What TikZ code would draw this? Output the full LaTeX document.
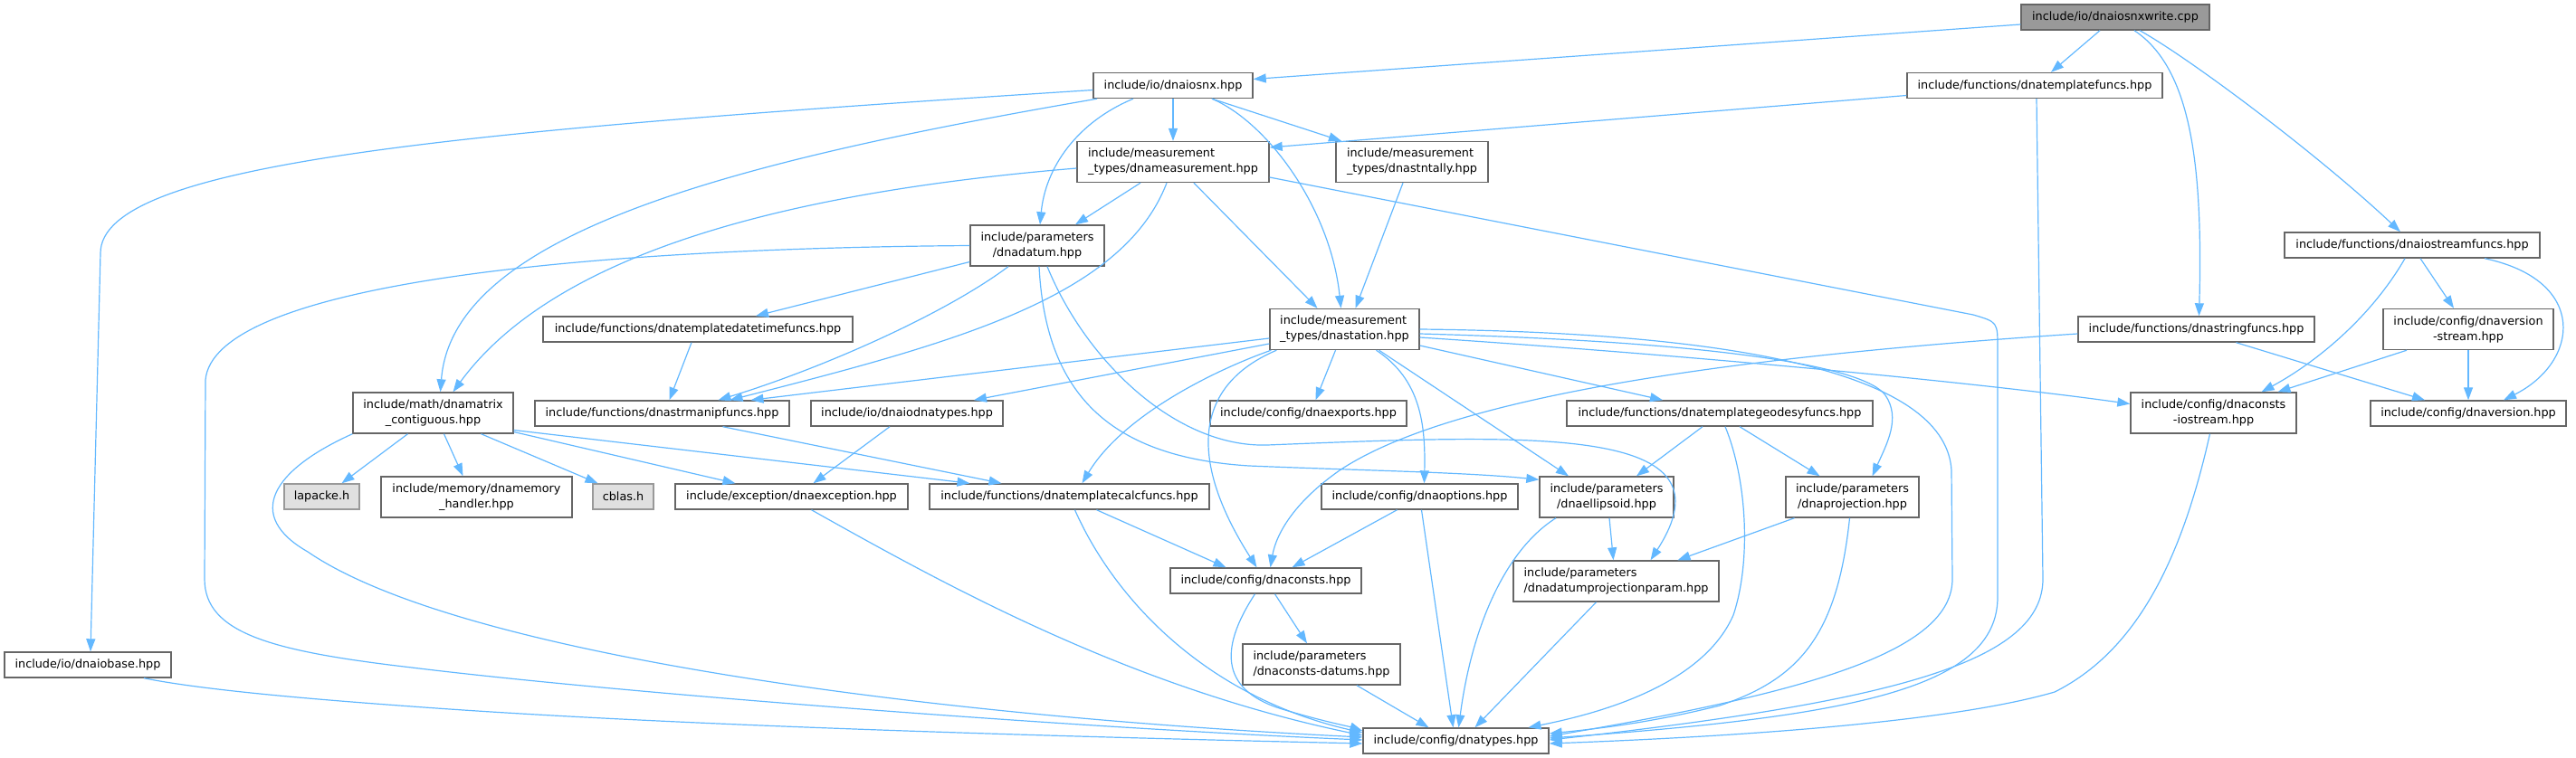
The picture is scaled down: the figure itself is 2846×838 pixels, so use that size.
\documentclass[tikz,border=0pt]{standalone}
\usepackage{fontspec}
\setmainfont{DejaVu Sans}
\usetikzlibrary{arrows.meta}
\usepackage{xcolor}
\definecolor{Edge}{RGB}{99,184,255}
\definecolor{Frame}{RGB}{102,102,102}
\definecolor{RootFill}{RGB}{153,153,153}
\definecolor{SysFill}{RGB}{224,224,224}
\definecolor{SysFrame}{RGB}{153,153,153}

\tikzset{
  file/.style={draw=Frame, fill=white, line width=1.4pt, inner sep=0pt, minimum height=28pt, font=\fontsize{12.8}{17}\selectfont},
  two/.style={minimum height=45pt},
  root/.style={file, fill=RootFill},
  sys/.style={file, draw=SysFrame, fill=SysFill},
  dep/.style={draw=Edge, line width=1.2pt, ->}
}

\begin{document}
\begin{tikzpicture}[x=1pt,y=-1pt,>={Triangle[length=14pt,width=10pt]}]
\useasboundingbox (0,0) rectangle (2846,838);

\node[root, minimum width=208pt] (write) at (2337,19) {include/io/dnaiosnxwrite.cpp};
\node[file, minimum width=176pt] (iosnx) at (1296,94.5) {include/io/dnaiosnx.hpp};
\node[file, minimum width=282pt] (tplfuncs) at (2248,94.5) {include/functions/dnatemplatefuncs.hpp};
\node[file, two, minimum width=212pt, align=left] (meas) at (1296,179) {include/measurement\\\_types/dnameasurement.hpp};
\node[file, two, minimum width=168pt, align=left] (stntally) at (1560,179) {include/measurement\\\_types/dnastntally.hpp};
\node[file, two, minimum width=148pt, align=center] (datum) at (1146,271.5) {include/parameters\\/dnadatum.hpp};
\node[file, minimum width=282pt] (iostream) at (2665,271) {include/functions/dnaiostreamfuncs.hpp};
\node[file, two, minimum width=165pt, align=left] (station) at (1485.5,364) {include/measurement\\\_types/dnastation.hpp};
\node[file, minimum width=342pt] (datetime) at (771,364) {include/functions/dnatemplatedatetimefuncs.hpp};
\node[file, minimum width=261pt] (strfuncs) at (2426.5,364) {include/functions/dnastringfuncs.hpp};
\node[file, two, minimum width=188pt, align=center] (verstream) at (2727,364) {include/config/dnaversion\\-stream.hpp};
\node[file, two, minimum width=177pt, align=center] (matrix) at (478.5,456.5) {include/math/dnamatrix\\\_contiguous.hpp};
\node[file, minimum width=281pt] (strmanip) at (731.5,457) {include/functions/dnastrmanipfuncs.hpp};
\node[file, minimum width=212pt] (iodnatypes) at (1002,457) {include/io/dnaiodnatypes.hpp};
\node[file, minimum width=217pt] (exports) at (1445.5,457) {include/config/dnaexports.hpp};
\node[file, minimum width=338pt] (geodesy) at (1900,457) {include/functions/dnatemplategeodesyfuncs.hpp};
\node[file, two, minimum width=183pt, align=center] (constsio) at (2445.5,456.5) {include/config/dnaconsts\\-iostream.hpp};
\node[file, minimum width=216pt] (version) at (2727,457) {include/config/dnaversion.hpp};
\node[sys, minimum width=83pt] (lapacke) at (355.5,549) {lapacke.h};
\node[file, two, minimum width=211pt, align=center] (memory) at (526.5,549.5) {include/memory/dnamemory\\\_handler.hpp};
\node[sys, minimum width=67pt] (cblas) at (688.5,549) {cblas.h};
\node[file, minimum width=257pt] (exception) at (874.5,549) {include/exception/dnaexception.hpp};
\node[file, minimum width=309pt] (calcfuncs) at (1181.5,549) {include/functions/dnatemplatecalcfuncs.hpp};
\node[file, minimum width=217pt] (options) at (1568.5,549) {include/config/dnaoptions.hpp};
\node[file, two, minimum width=148pt, align=center] (ellipsoid) at (1775,549.5) {include/parameters\\/dnaellipsoid.hpp};
\node[file, two, minimum width=147pt, align=center] (projection) at (2046.5,549.5) {include/parameters\\/dnaprojection.hpp};
\node[file, minimum width=211pt] (consts) at (1398.5,642) {include/config/dnaconsts.hpp};
\node[file, two, minimum width=227pt, align=left] (dpp) at (1785.5,642.5) {include/parameters\\/dnadatumprojectionparam.hpp};
\node[file, two, minimum width=174pt, align=left] (datums) at (1460,734.5) {include/parameters\\/dnaconsts-datums.hpp};
\node[file, minimum width=184pt] (iobase) at (97,735) {include/io/dnaiobase.hpp};
\node[file, minimum width=205pt] (types) at (1608.5,819) {include/config/dnatypes.hpp};

\draw[dep] ([yshift=-8pt]write.west) -- ([yshift=7pt]iosnx.east);
\draw[dep] ([xshift=-17pt]write.south) -- ([xshift=18pt]tplfuncs.north);
\draw[dep] ([xshift=21pt]write.south) .. controls (2420,75) and (2434,180) .. ([xshift=3pt]strfuncs.north);
\draw[dep] ([xshift=27pt]write.south) .. controls (2420,65) and (2560,170) .. ([xshift=-13pt]iostream.north);

\draw[dep] ([yshift=-5pt]iosnx.west) .. controls (500,145) and (111,180) .. (111,280) -- ([xshift=3pt]iobase.north);
\draw[dep] ([xshift=-84pt]iosnx.south) .. controls (800,180) and (500,260) .. ([xshift=8pt]matrix.north);
\draw[dep] ([xshift=-44pt]iosnx.south) .. controls (1190,135) and (1155,185) .. ([xshift=3pt]datum.north);
\draw[dep] (iosnx) -- (meas);
\draw[dep] ([xshift=43pt]iosnx.south) .. controls (1400,135) and (1470,230) .. ([xshift=-4pt]station.north);
\draw[dep] ([xshift=43pt]iosnx.south) -- ([xshift=-78pt]stntally.north);

\draw[dep] ([yshift=-11pt]tplfuncs.west) -- ([yshift=16pt]meas.east);
\draw[dep] ([xshift=2pt]tplfuncs.south) -- (2257,640) .. controls (2257,730) and (2100,775) .. ([yshift=1pt]types.east);

\draw[dep] ([yshift=-7pt]meas.west) .. controls (900,210) and (620,270) .. ([xshift=22pt]matrix.north);
\draw[dep] ([xshift=-36pt]meas.south) -- ([xshift=42pt]datum.north);
\draw[dep] ([xshift=-7pt]meas.south) .. controls (1240,330) and (1050,380) .. ([xshift=75pt]strmanip.north);
\draw[dep] ([xshift=23pt]meas.south) -- ([xshift=-30pt]station.north);
\draw[dep] ([yshift=-17pt]meas.east) -- (2180,348) .. controls (2207,356) .. (2207,385) -- (2207,660) .. controls (2207,760) and (2050,792) .. ([yshift=3pt]types.east);

\draw[dep] ([xshift=-10pt]stntally.south) -- ([xshift=12pt]station.north);

\draw[dep] ([yshift=-18pt]datum.west) -- ([xshift=64pt]datetime.north);
\draw[dep] ([xshift=-32pt]datum.south) .. controls (1040,350) and (900,410) .. ([xshift=62pt]strmanip.north);
\draw[dep] ([xshift=2pt]datum.south) .. controls (1155,430) and (1220,505) .. (1380,515) .. controls (1500,520) and (1620,522) .. ([yshift=-4pt]ellipsoid.north west);
\draw[dep] ([xshift=11pt]datum.south) .. controls (1200,400) and (1300,495) .. (1400,492) .. controls (1700,480) and (1920,470) .. ([xshift=38pt]dpp.north);
\draw[dep] (datum.west) .. controls (600,275) and (236,320) .. (227,420) -- (226,640) .. controls (226,700) and (300,720) .. (455,738) .. controls (700,768) and (1200,805) .. ([yshift=1pt]types.west);

\draw[dep] ([xshift=-8pt]iostream.south) .. controls (2620,350) and (2560,400) .. ([xshift=53pt]constsio.north);
\draw[dep] ([xshift=9pt]iostream.south) -- ([xshift=-16pt]verstream.north);
\draw[dep] ([xshift=80pt]iostream.south) .. controls (2860,310) and (2850,400) .. ([xshift=39pt]version.north);

\draw[dep] ([yshift=-10pt]station.west) -- ([xshift=98pt]strmanip.north);
\draw[dep] ([yshift=-16pt]station.west) -- ([xshift=74pt]iodnatypes.north);
\draw[dep] ([xshift=-10pt]station.south) -- ([xshift=8pt]exports.north);
\draw[dep] ([xshift=2pt]station.south west) .. controls (1340,410) and (1240,460) .. ([xshift=14pt]calcfuncs.north);
\draw[dep] ([xshift=8pt]station.south west) .. controls (1310,430) and (1320,520) .. ([xshift=-10pt]consts.north);
\draw[dep] ([xshift=35pt]station.south) .. controls (1570,420) and (1575,470) .. ([xshift=5pt]options.north);
\draw[dep] ([xshift=38pt]station.south) -- ([xshift=-42pt]ellipsoid.north);
\draw[dep] ([yshift=-18pt]station.east) -- ([xshift=-63pt]geodesy.north);
\draw[dep] ([yshift=-5pt]station.east) .. controls (1900,378) and (2060,405) .. (2083,437) .. controls (2100,462) and (2085,490) .. ([xshift=22pt]projection.north);
\draw[dep] ([yshift=-9pt]station.east) .. controls (1900,395) and (2200,425) .. ([yshift=10pt]constsio.west);
\draw[dep] (station.east) .. controls (1950,368) and (2150,420) .. (2156,520) -- (2157,640) .. controls (2157,720) and (2000,765) .. ([yshift=5pt]types.east);

\draw[dep] ([xshift=-7pt]datetime.south) -- ([xshift=8pt]strmanip.north);

\draw[dep] ([yshift=-5pt]strfuncs.west) .. controls (1900,395) and (1600,440) .. (1480,520) .. controls (1430,555) and (1410,590) .. ([xshift=5pt]consts.north);
\draw[dep] ([xshift=44pt]strfuncs.south) -- ([xshift=-48pt]version.north);

\draw[dep] ([xshift=-68pt]verstream.south) -- ([xshift=71pt]constsio.north);
\draw[dep] (verstream) -- (version);

\draw[dep] ([xshift=-28pt]matrix.south) -- ([xshift=22pt]lapacke.north);
\draw[dep] ([xshift=12pt]matrix.south) -- ([xshift=-15pt]memory.north);
\draw[dep] ([xshift=53pt]matrix.south) -- ([xshift=-28pt]cblas.north);
\draw[dep] ([yshift=-21pt]matrix.east) -- ([xshift=-62pt]exception.north);
\draw[dep] ([yshift=-19pt]matrix.east) -- ([xshift=-110pt]calcfuncs.north);
\draw[dep] (matrix.south west) .. controls (300,520) and (270,570) .. (340,610) .. controls (500,720) and (1000,790) .. ([yshift=4pt]types.west);

\draw[dep] ([xshift=67pt]strmanip.south) -- ([xshift=-75pt]calcfuncs.north);
\draw[dep] ([xshift=-19pt]iodnatypes.south) -- ([xshift=24pt]exception.north);

\draw[dep] ([xshift=-19pt]geodesy.south) -- ([xshift=33pt]ellipsoid.north);
\draw[dep] ([xshift=22pt]geodesy.south) -- ([xshift=-36pt]projection.north);
\draw[dep] ([xshift=6pt]geodesy.south) .. controls (1930,530) and (1935,620) .. (1915,680) .. controls (1880,760) and (1760,790) .. ([xshift=80pt]types.north);

\draw[dep] ([xshift=-4pt]constsio.south) .. controls (2410,620) and (2360,720) .. (2270,765) .. controls (2150,800) and (1900,815) .. ([yshift=-3pt]types.east);
\draw[dep] ([xshift=22pt]exception.south) .. controls (1050,650) and (1250,760) .. ([yshift=6pt]types.west);
\draw[dep] ([xshift=30pt]calcfuncs.south) -- ([xshift=-44pt]consts.north);
\draw[dep] ([xshift=6pt]calcfuncs.south) .. controls (1230,660) and (1330,770) .. ([yshift=9pt]types.west);
\draw[dep] ([xshift=-25pt]options.south) -- ([xshift=29pt]consts.north);
\draw[dep] ([xshift=2pt]options.south) -- ([xshift=-3pt]types.north);
\draw[dep] ([xshift=3pt]ellipsoid.south) -- ([xshift=-3pt]dpp.north);
\draw[dep] ([xshift=-56pt]ellipsoid.south) .. controls (1660,610) and (1625,700) .. ([xshift=3pt]types.north);
\draw[dep] ([xshift=-64pt]projection.south) -- ([xshift=68pt]dpp.north);
\draw[dep] ([xshift=-3pt]projection.south) .. controls (2030,700) and (1990,750) .. (1900,780) .. controls (1820,800) and (1760,806) .. ([yshift=8pt]types.east);
\draw[dep] ([xshift=10pt]consts.south) -- ([xshift=-16pt]datums.north);
\draw[dep] ([xshift=-12pt]consts.south) .. controls (1345,720) and (1350,765) .. (1420,785) .. controls (1460,797) and (1490,803) .. ([yshift=11pt]types.west);
\draw[dep] ([xshift=-22pt]dpp.south) -- ([xshift=21pt]types.north);
\draw[dep] ([xshift=39pt]datums.south) -- ([xshift=-30pt]types.north);
\draw[dep] ([xshift=62pt]iobase.south) .. controls (220,762) and (330,772) .. (455,781) .. controls (750,803) and (1200,815) .. ([yshift=-3pt]types.west);
\end{tikzpicture}
\end{document}
